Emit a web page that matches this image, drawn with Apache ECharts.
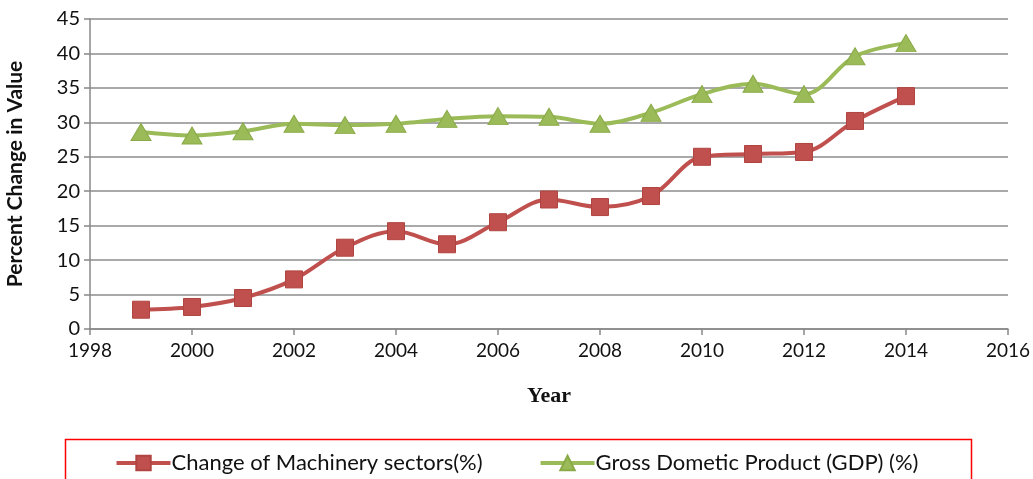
<!DOCTYPE html>
<html><head><meta charset="utf-8">
<script src="https://cdn.jsdelivr.net/npm/echarts@6/dist/echarts.min.js"></script>
<style>html,body{margin:0;padding:0;background:#fff}#c{width:1033px;height:479px}</style>
</head><body><div id="c"></div>
<script>
const years = [1999,2000,2001,2002,2003,2004,2005,2006,2007,2008,2009,2010,2011,2012,2013,2014];
const machinery = [2.8,3.2,4.5,7.2,11.8,14.2,12.3,15.5,18.8,17.7,19.3,25.0,25.4,25.7,30.2,33.8];
const gdp = [28.6,28.1,28.7,29.8,29.6,29.8,30.5,30.9,30.8,29.8,31.4,34.1,35.6,34.1,39.6,41.5];
const seriesNames = ['Change of Machinery sectors(%)','Gross Dometic Product (GDP) (%)'];
const FONT = 'Lato, "Open Sans", sans-serif';
const chart = echarts.init(document.getElementById('c'));
chart.setOption({
  animation:false,
  grid:{left:90,right:25,top:19,bottom:150,outerBoundsMode:'none',containLabel:false},
  xAxis:{type:'value',min:1998,max:2016,interval:2,
    name:'Year',nameLocation:'middle',nameGap:56,
    nameTextStyle:{fontFamily:'"Liberation Serif", serif',fontWeight:'bold',fontSize:22,color:'#111'},
    axisLine:{lineStyle:{color:'#888',width:1.5}},
    axisTick:{show:true,length:6,lineStyle:{color:'#888',width:1.5}},
    splitLine:{show:false},
    axisLabel:{fontFamily:FONT,fontSize:19,color:'#111',margin:12,formatter:v=>String(v)}},
  yAxis:{type:'value',min:0,max:45,interval:5,
    name:'Percent Change in Value',nameLocation:'middle',nameGap:64,
    nameTextStyle:{fontFamily:FONT,fontWeight:'bold',fontSize:21,color:'#111'},
    axisLine:{show:true,lineStyle:{color:'#888',width:1.5}},
    axisTick:{show:true,length:6,lineStyle:{color:'#888',width:1.5}},
    splitLine:{lineStyle:{color:'#8c8c8c',width:1.5}},
    axisLabel:{fontFamily:FONT,fontSize:20,color:'#111',margin:10}},
  legend:{top:447,left:'center',itemGap:56,itemWidth:54,itemHeight:18,
    textStyle:{fontFamily:FONT,fontSize:22,color:'#111',padding:[0,0,0,-4]},
    lineStyle:{width:4},
    data:seriesNames},
  graphic:[{type:'rect',left:63,top:437,shape:{width:906,height:60},
    style:{fill:'none',stroke:'#ff0000',lineWidth:1.5},silent:true}],
  series:[
    {name:seriesNames[0],type:'line',smooth:0.35,data:years.map((y,i)=>[y,machinery[i]]),
     symbol:'rect',symbolSize:17,lineStyle:{color:'#C0504D',width:4},
     itemStyle:{color:'#C0504D',borderColor:'#B04440',borderWidth:1}},
    {name:seriesNames[1],type:'line',smooth:0.35,data:years.map((y,i)=>[y,gdp[i]]),
     symbol:'triangle',symbolSize:[20,17],lineStyle:{color:'#9BBB59',width:4},
     itemStyle:{color:'#9BBB59',borderColor:'#8AAA48',borderWidth:1}}
  ]
});
</script></body></html>
